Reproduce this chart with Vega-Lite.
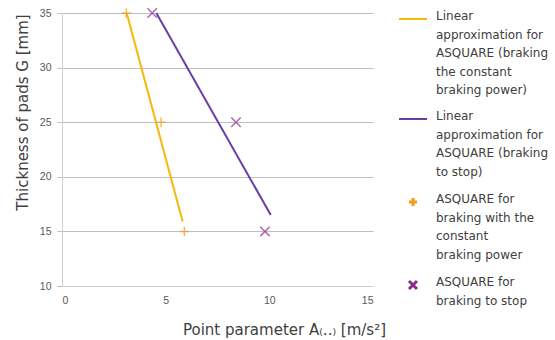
{
  "$schema": "https://vega.github.io/schema/vega-lite/v6.json",
  "width": 311,
  "height": 273,
  "autosize": {"type": "none"},
  "padding": {"left": 62, "top": 13, "right": 182, "bottom": 54},
  "config": {
    "font": "DejaVu Sans",
    "view": {"stroke": null},
    "axis": {"labelColor": "#595959", "labelFont": "Liberation Sans", "labelFontSize": 10.5, "titleColor": "#404040", "titleFontSize": 15, "titleFontWeight": "normal", "gridColor": "#BFBFBF", "tickColor": "#BFBFBF", "domainColor": "#D0D0D0"}
  },
  "data": {
    "values": [
      {"series": "A", "kind": "line", "x": 3.12, "y": 35},
      {"series": "A", "kind": "line", "x": 5.82, "y": 15.9},
      {"series": "B", "kind": "line", "x": 4.55, "y": 35},
      {"series": "B", "kind": "line", "x": 10.07, "y": 16.5},
      {"series": "C", "kind": "point", "x": 3.1, "y": 35},
      {"series": "C", "kind": "point", "x": 4.78, "y": 25},
      {"series": "C", "kind": "point", "x": 5.9, "y": 15},
      {"series": "D", "kind": "point", "x": 4.35, "y": 35},
      {"series": "D", "kind": "point", "x": 8.39, "y": 25},
      {"series": "D", "kind": "point", "x": 9.79, "y": 15}
    ]
  },
  "encoding": {
    "x": {"field": "x", "type": "quantitative", "scale": {"domain": [0, 15], "nice": false}, "axis": {"values": [0, 5, 10, 15], "grid": false, "ticks": false, "labelPadding": 9, "title": "Point parameter A₍..₎ [m/s²]", "titleX": 222, "titleY": 43, "titleBaseline": "middle"}},
    "y": {"field": "y", "type": "quantitative", "scale": {"domain": [10, 35], "nice": false}, "axis": {"values": [10, 15, 20, 25, 30, 35], "tickSize": 5, "labelPadding": 6, "title": "Thickness of pads G [mm]", "titleX": -40, "titleY": 99, "titleBaseline": "middle"}},
    "color": {
      "field": "series", "type": "nominal",
      "scale": {"domain": ["A", "B", "C", "D"], "range": ["#F5B90A", "#6A3DA6", "#F29B1D", "#8A2D8E"]},
      "legend": {
        "title": null,
        "offset": 34,
        "padding": 0,
        "symbolSize": 784,
        "symbolStrokeWidth": 2,
        "labelOffset": 17,
        "labelFontSize": 12,
        "labelColor": "#404040",
        "labelLimit": 200,
        "labelBaseline": "top",
        "rowPadding": 14,
        "labelExpr": "datum.label == 'A' ? ['Linear', 'approximation for', 'ASQUARE (braking', 'the constant', 'braking power)'] : datum.label == 'B' ? ['Linear', 'approximation for', 'ASQUARE (braking', 'to stop)'] : datum.label == 'C' ? ['ASQUARE for', 'braking with the', 'constant', 'braking power'] : ['ASQUARE for', 'braking to stop']",
        "encode": {
          "labels": {"update": {"lineHeight": {"value": 18.5}, "dy": {"value": -8}}},
          "symbols": {"update": {
            "shape": {"signal": "datum.value == 'A' || datum.value == 'B' ? 'stroke' : datum.value == 'C' ? 'M-1,0L1,0M0,-1L0,1' : 'M-1,-1L1,1M1,-1L-1,1'"},
            "size": {"signal": "datum.value == 'A' || datum.value == 'B' ? 784 : 64"},
            "strokeWidth": {"signal": "datum.value == 'A' || datum.value == 'B' ? 2 : 3"},
            "fill": {"value": "transparent"},
            "stroke": {"signal": "datum.value == 'B' ? '#2A2AB0' : datum.value == 'C' ? '#F5B820' : scale('color', datum.value)"}}}
        }
      }
    }
  },
  "layer": [
    {
      "transform": [{"filter": "datum.kind == 'line'"}],
      "mark": {"type": "line", "strokeWidth": 2}
    },
    {
      "transform": [{"filter": "datum.kind == 'point'"}],
      "mark": {"type": "point", "filled": false, "strokeWidth": 1.5, "size": 90},
      "encoding": {
        "shape": {
          "field": "series", "type": "nominal",
          "scale": {"domain": ["C", "D"], "range": ["M-1,0L1,0M0,-1L0,1", "M-1,-1L1,1M1,-1L-1,1"]},
          "legend": null
        }
      }
    }
  ]
}
